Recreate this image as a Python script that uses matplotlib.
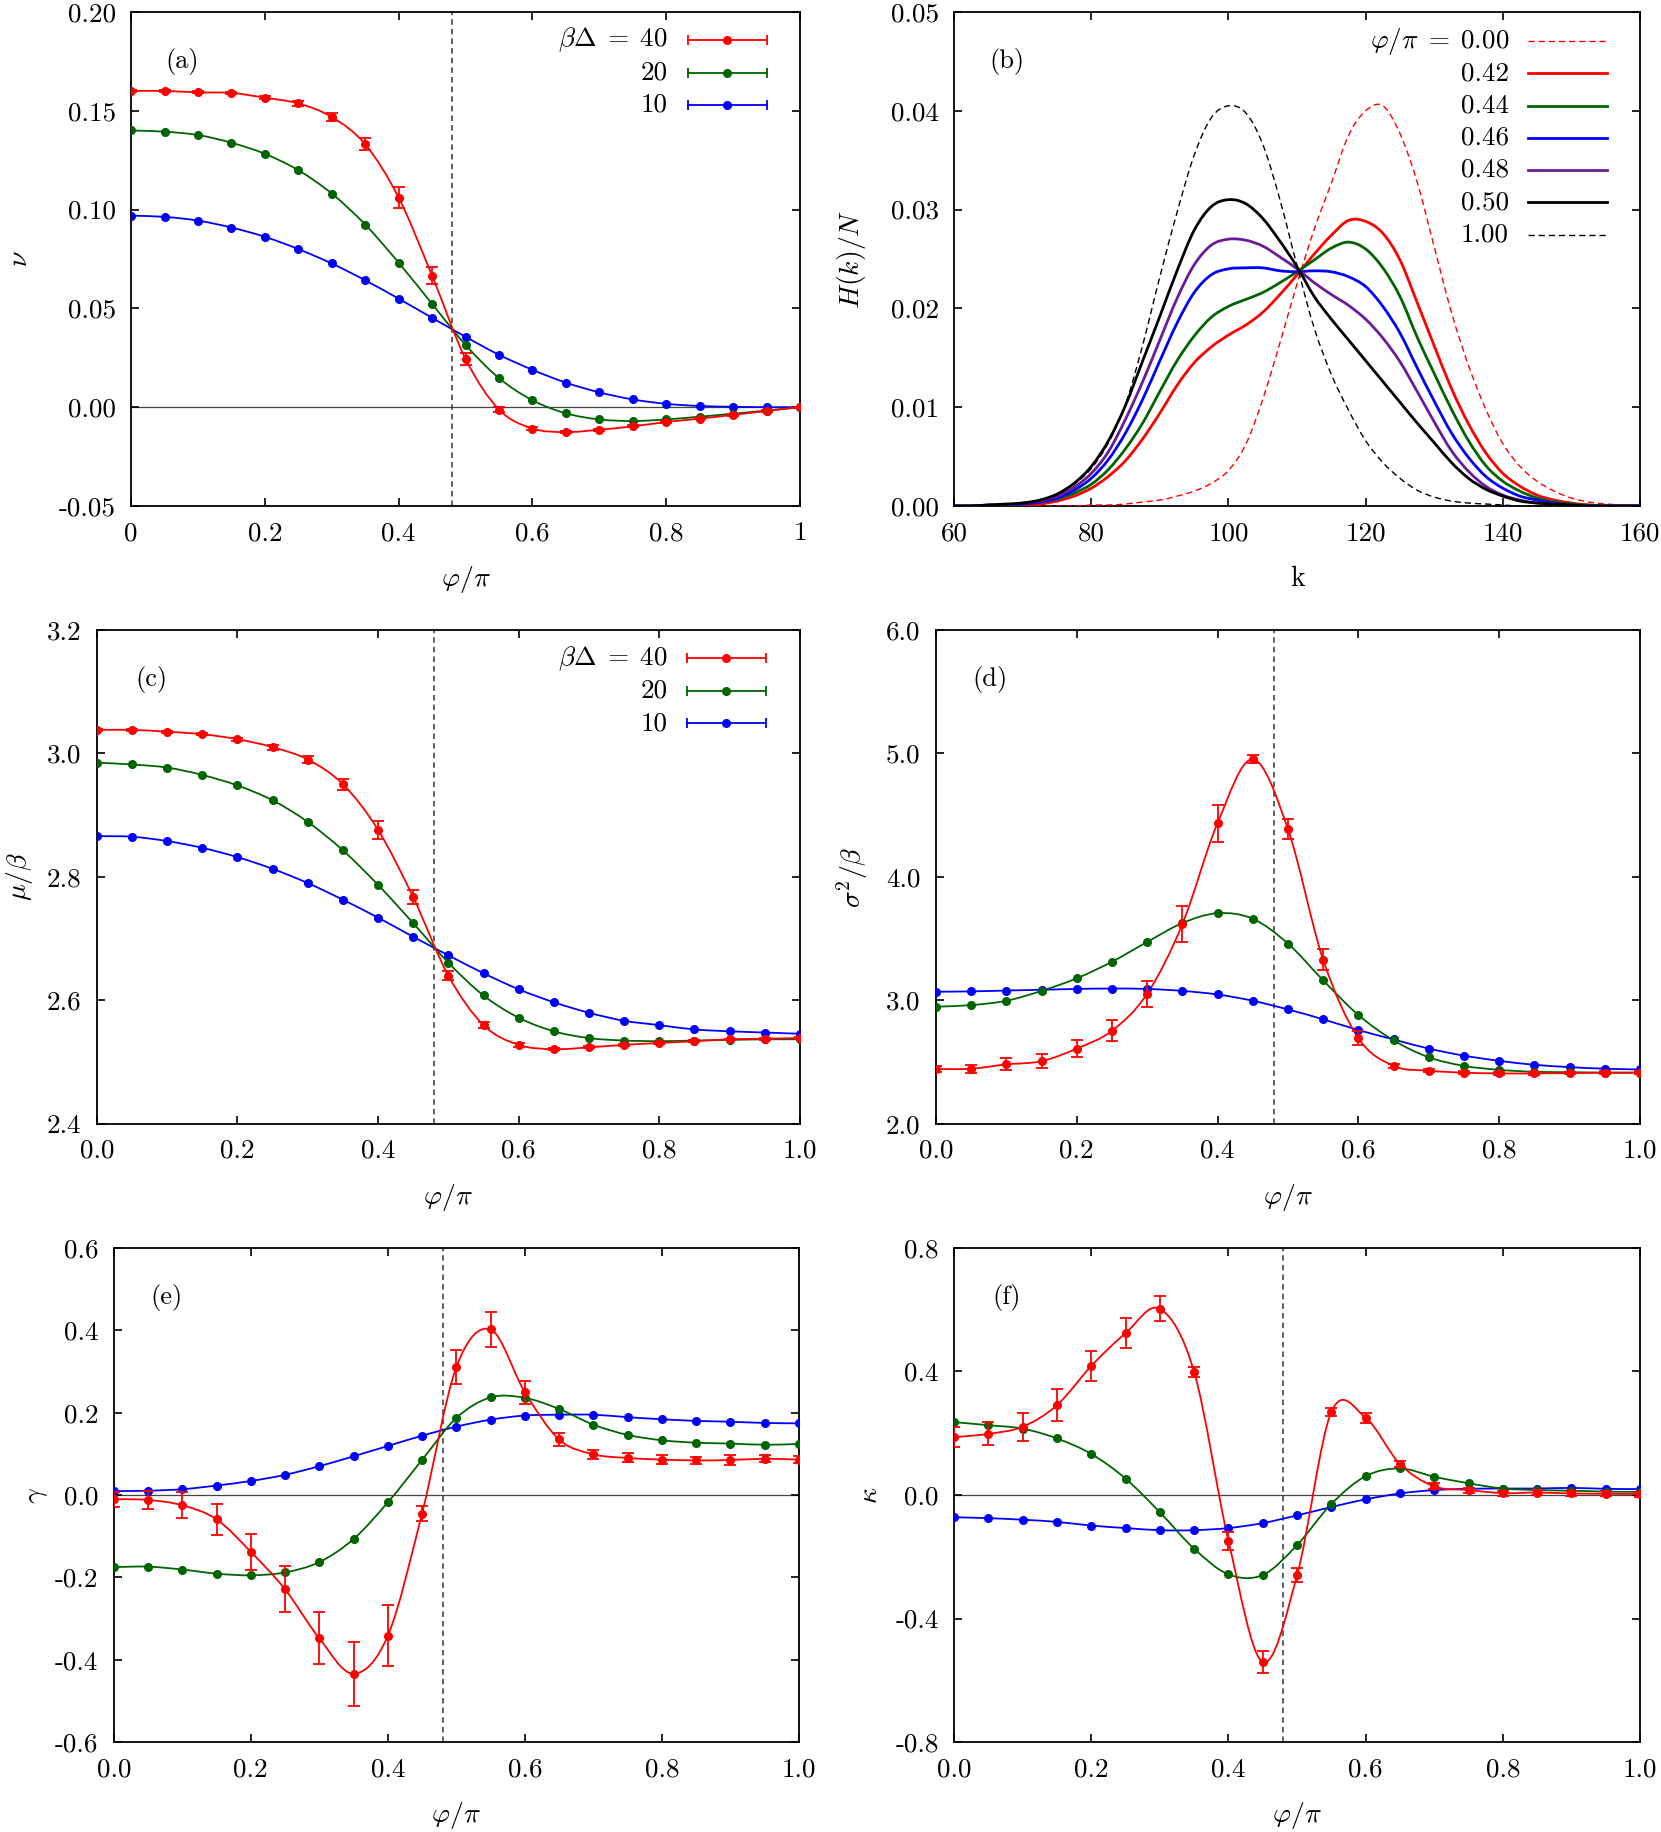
import numpy as np
import matplotlib
matplotlib.use("Agg")
import matplotlib.pyplot as plt
from matplotlib.path import Path
from matplotlib.patches import PathPatch

plt.rcParams['font.family'] = 'cmr10'
plt.rcParams['mathtext.fontset'] = 'cm'
plt.rcParams['axes.unicode_minus'] = False
plt.rcParams['axes.formatter.use_mathtext'] = True
plt.rcParams['font.size'] = 19

RED = '#ff0000'
GREEN = '#006400'
BLUE = '#0000ff'
PURPLE = '#6a1b9a'
BLACK = '#000000'

# phi/pi grid used by panels (a), (c)-(f)
phi = [0.00, 0.05, 0.10, 0.15, 0.20, 0.25, 0.30, 0.35, 0.40, 0.45, 0.50,
       0.55, 0.60, 0.65, 0.70, 0.75, 0.80, 0.85, 0.90, 0.95, 1.00]

# (a) nu
nu40 = [0.1600, 0.1600, 0.1593, 0.1590, 0.1566, 0.1537, 0.1468, 0.1330, 0.1060, 0.0665, 0.0244,
        -0.0012, -0.0108, -0.0126, -0.0114, -0.0097, -0.0075, -0.0058, -0.0039, -0.0019, 0.0]
nu40_err = [0.0005, 0.0005, 0.0005, 0.0005, 0.0008, 0.0012, 0.002, 0.003, 0.0052, 0.0042, 0.003,
            0.0012, 0.0008, 0.0006, 0.0005, 0.0005, 0.0005, 0.0004, 0.0004, 0.0003, 0.0002]
nu20 = [0.1400, 0.1394, 0.1377, 0.1338, 0.1282, 0.1199, 0.1081, 0.0924, 0.0731, 0.0522, 0.0315,
        0.0147, 0.0035, -0.0031, -0.0062, -0.0070, -0.0062, -0.0048, -0.0033, -0.0017, 0.0]
nu10 = [0.0969, 0.0963, 0.0944, 0.0909, 0.0862, 0.0800, 0.0727, 0.0642, 0.0549, 0.0452, 0.0356,
        0.0265, 0.0189, 0.0124, 0.0075, 0.0039, 0.0017, 0.0006, 0.0002, 0.0, 0.0]

# (b) H(k)/N
k = [60, 62.5, 65, 67.5, 70, 72.5, 75, 77.5, 80, 82.5, 85, 87.5, 90, 92.5, 95, 97.5, 100,
     102.5, 105, 107.5, 110, 112.5, 115, 117.5, 120, 122.5, 125, 127.5, 130, 132.5, 135,
     137.5, 140, 142.5, 145, 147.5, 150, 152.5, 155, 157.5, 160]
h000 = [0, 0, 0, 0, 0, 0, 0, 0, 0.0001, 0.0001, 0.0002, 0.0004, 0.0006, 0.0010, 0.0015, 0.0023,
        0.0036, 0.0062, 0.0108, 0.0165, 0.0225, 0.0280, 0.0327, 0.0375, 0.0400, 0.0405, 0.0377,
        0.0328, 0.0262, 0.0196, 0.0142, 0.0098, 0.0063, 0.0040, 0.0025, 0.0015, 0.0008, 0.0004,
        0.0002, 0.0001, 0.0]
h042 = [0, 0, 0, 0, 0.0001, 0.0002, 0.0005, 0.0010, 0.0018, 0.0030, 0.0046, 0.0068, 0.0094,
        0.0122, 0.0145, 0.0161, 0.0173, 0.0183, 0.0196, 0.0214, 0.0234, 0.0255, 0.0274, 0.0289,
        0.0288, 0.0276, 0.0249, 0.0206, 0.0162, 0.0119, 0.0083, 0.0054, 0.0033, 0.0020, 0.0011,
        0.0006, 0.0003, 0.0001, 0, 0, 0]
h044 = [0, 0, 0, 0.0001, 0.0002, 0.0004, 0.0007, 0.0013, 0.0022, 0.0037, 0.0058, 0.0084, 0.0116,
        0.0147, 0.0172, 0.0191, 0.0202, 0.0209, 0.0216, 0.0226, 0.0237, 0.0249, 0.0261, 0.0267,
        0.0260, 0.0241, 0.0212, 0.0171, 0.0134, 0.0098, 0.0066, 0.0041, 0.0025, 0.0015, 0.0008,
        0.0004, 0.0002, 0.0001, 0, 0, 0]
h046 = [0, 0, 0.0001, 0.0001, 0.0002, 0.0004, 0.0008, 0.0016, 0.0028, 0.0047, 0.0074, 0.0108,
        0.0147, 0.0185, 0.0216, 0.0234, 0.0240, 0.0241, 0.0241, 0.0238, 0.0237, 0.0238, 0.0237,
        0.0232, 0.0222, 0.0202, 0.0175, 0.0140, 0.0106, 0.0074, 0.0049, 0.0030, 0.0018, 0.0010,
        0.0006, 0.0003, 0.0001, 0, 0, 0, 0]
h048 = [0, 0, 0.0001, 0.0001, 0.0003, 0.0005, 0.0010, 0.0019, 0.0033, 0.0055, 0.0088, 0.0126,
        0.0168, 0.0210, 0.0244, 0.0264, 0.0270, 0.0269, 0.0263, 0.0252, 0.0240, 0.0226, 0.0214,
        0.0203, 0.0189, 0.0170, 0.0146, 0.0116, 0.0085, 0.0056, 0.0035, 0.0020, 0.0011, 0.0006,
        0.0003, 0.0002, 0.0001, 0, 0, 0, 0]
h050 = [0, 0, 0.0001, 0.0002, 0.0003, 0.0006, 0.0012, 0.0023, 0.0040, 0.0066, 0.0102, 0.0147,
        0.0192, 0.0238, 0.0279, 0.0303, 0.0310, 0.0306, 0.0291, 0.0268, 0.0242, 0.0212, 0.0189,
        0.0168, 0.0147, 0.0126, 0.0105, 0.0084, 0.0064, 0.0044, 0.0028, 0.0017, 0.0010, 0.0005,
        0.0003, 0.0002, 0.0001, 0, 0, 0, 0]
h100 = [0, 0, 0.0001, 0.0001, 0.0003, 0.0006, 0.0012, 0.0022, 0.0038, 0.0064, 0.0103, 0.0163,
        0.0232, 0.0297, 0.0355, 0.0393, 0.0405, 0.0398, 0.0366, 0.0310, 0.0243, 0.0180, 0.0133,
        0.0097, 0.0066, 0.0044, 0.0028, 0.0016, 0.0009, 0.0005, 0.0003, 0.0002, 0.0001, 0, 0,
        0, 0, 0, 0, 0, 0]
b_labels = [r'$\varphi/\pi\;=\;0.00$', '0.42', '0.44', '0.46', '0.48', '0.50', '1.00']

# (c) mu/beta
mu40 = [3.038, 3.038, 3.035, 3.031, 3.023, 3.010, 2.990, 2.950, 2.876, 2.767, 2.640,
        2.560, 2.528, 2.521, 2.524, 2.528, 2.531, 2.534, 2.537, 2.538, 2.539]
mu40_err = [0.0013, 0.0013, 0.0013, 0.002, 0.0026, 0.004, 0.0064, 0.009, 0.014, 0.0115, 0.0077,
            0.005, 0.003, 0.002, 0.0015, 0.0013, 0.0013, 0.0013, 0.0013, 0.0013, 0.0013]
mu20 = [2.985, 2.982, 2.977, 2.965, 2.948, 2.924, 2.889, 2.843, 2.787, 2.725, 2.661,
        2.608, 2.572, 2.550, 2.539, 2.535, 2.534, 2.535, 2.536, 2.537, 2.537]
mu10 = [2.866, 2.865, 2.858, 2.847, 2.832, 2.813, 2.790, 2.763, 2.734, 2.703, 2.673,
        2.644, 2.618, 2.597, 2.580, 2.567, 2.560, 2.553, 2.550, 2.548, 2.546]

# (d) sigma^2/beta
s40 = [2.444, 2.447, 2.482, 2.508, 2.610, 2.754, 3.054, 3.617, 4.435, 4.952, 4.387,
       3.329, 2.696, 2.470, 2.431, 2.415, 2.409, 2.409, 2.412, 2.415, 2.415]
s40_err = [0.026, 0.032, 0.048, 0.058, 0.07, 0.086, 0.105, 0.144, 0.15, 0.032, 0.08,
           0.086, 0.058, 0.019, 0.013, 0.01, 0.01, 0.01, 0.01, 0.01, 0.01]
s20 = [2.949, 2.962, 2.997, 3.077, 3.179, 3.313, 3.473, 3.626, 3.706, 3.661, 3.460,
       3.163, 2.882, 2.677, 2.540, 2.470, 2.438, 2.422, 2.419, 2.415, 2.415]
s10 = [3.070, 3.073, 3.080, 3.086, 3.093, 3.096, 3.093, 3.077, 3.048, 2.997, 2.927,
       2.847, 2.760, 2.684, 2.610, 2.553, 2.511, 2.479, 2.460, 2.447, 2.441]

# (e) gamma
g40 = [-0.010, -0.012, -0.025, -0.059, -0.138, -0.229, -0.348, -0.434, -0.342, -0.045, 0.310,
       0.402, 0.250, 0.135, 0.099, 0.090, 0.086, 0.084, 0.085, 0.088, 0.086]
g40_err = [0.018, 0.021, 0.032, 0.037, 0.044, 0.056, 0.063, 0.078, 0.074, 0.018, 0.041,
           0.042, 0.028, 0.016, 0.011, 0.011, 0.011, 0.009, 0.011, 0.009, 0.008]
g20 = [-0.175, -0.174, -0.181, -0.191, -0.195, -0.188, -0.163, -0.107, -0.018, 0.085, 0.187,
       0.237, 0.236, 0.209, 0.171, 0.146, 0.133, 0.127, 0.125, 0.122, 0.124]
g10 = [0.0095, 0.0104, 0.014, 0.023, 0.034, 0.049, 0.070, 0.094, 0.119, 0.144, 0.166,
       0.183, 0.193, 0.195, 0.195, 0.189, 0.184, 0.180, 0.178, 0.175, 0.174]

# (f) kappa
k40 = [0.187, 0.198, 0.221, 0.291, 0.418, 0.524, 0.603, 0.398, -0.149, -0.541, -0.260,
       0.269, 0.250, 0.100, 0.028, 0.016, 0.006, 0.008, 0.005, 0.004, 0.003]
k40_err = [0.033, 0.037, 0.046, 0.052, 0.049, 0.048, 0.040, 0.015, 0.028, 0.035, 0.023,
           0.013, 0.016, 0.010, 0.010, 0.008, 0.008, 0.008, 0.008, 0.008, 0.008]
k20 = [0.236, 0.226, 0.215, 0.183, 0.133, 0.053, -0.056, -0.174, -0.257, -0.259, -0.162,
       -0.029, 0.061, 0.086, 0.059, 0.038, 0.021, 0.016, 0.014, 0.011, 0.010]
k10 = [-0.072, -0.075, -0.080, -0.087, -0.099, -0.107, -0.114, -0.114, -0.107, -0.091, -0.066,
       -0.039, -0.014, 0.005, 0.016, 0.020, 0.021, 0.021, 0.023, 0.020, 0.019]

beta_labels = [r'$\beta\Delta\;=\;40$', '20', '10']
phi_c = 0.48


def smooth(ax, x, y, **kw):
    # cubic bezier through the points (like gnuplot's smooth lines)
    x = np.asarray(x, float)
    y = np.asarray(y, float)
    m = np.gradient(y, x)
    h = np.diff(x)
    verts = [(x[0], y[0])]
    for i in range(len(x) - 1):
        verts.append((x[i] + h[i] / 3, y[i] + m[i] * h[i] / 3))
        verts.append((x[i + 1] - h[i] / 3, y[i + 1] - m[i + 1] * h[i] / 3))
        verts.append((x[i + 1], y[i + 1]))
    codes = [Path.MOVETO] + [Path.CURVE4] * (len(verts) - 1)
    ax.add_patch(PathPatch(Path(verts, codes), fill=False, **kw))


def series(ax, y, color, err=None):
    smooth(ax, phi, y, edgecolor=color, lw=1.3, zorder=3)
    if err is not None:
        ax.errorbar(phi, y, yerr=err, fmt='o', color=color, ms=5.5, capsize=4,
                    elinewidth=1.3, capthick=1.3, zorder=4)
    else:
        ax.plot(phi, y, 'o', color=color, ms=5.5, zorder=4)


def setup(ax, xlim, xticks, xtl, ylim, yticks, ytl, xlabel, ylabel, ylx, tag):
    ax.set_xlim(xlim)
    ax.set_ylim(ylim)
    ax.set_xticks(xticks)
    ax.set_xticklabels(xtl)
    ax.set_yticks(yticks)
    ax.set_yticklabels(ytl)
    ax.tick_params(direction='in', top=True, right=True, length=6, width=1.2, labelsize=19.5)
    ax.tick_params(axis='x', pad=11)
    ax.tick_params(axis='y', pad=11)
    for s in ax.spines.values():
        s.set_linewidth(1.3)
    ax.set_xlabel(xlabel, fontsize=20)
    ax.set_ylabel(ylabel, fontsize=20)
    ax.xaxis.label.set_va('center')
    ax.yaxis.label.set_va('center')
    ax.xaxis.set_label_coords(0.5, -0.148)
    ax.yaxis.set_label_coords(ylx, 0.5)
    ax.text(0.077, 0.90, tag, transform=ax.transAxes, ha='center', va='center', fontsize=19)


def eb_legend(ax, labels, colors, xt, x0, x1, y0, dy):
    for i, (lab, c) in enumerate(zip(labels, colors)):
        y = y0 - i * dy
        ax.text(xt, y, lab, transform=ax.transAxes, ha='right', va='center', fontsize=19.5)
        ax.plot([x0, x1], [y, y], transform=ax.transAxes, color=c, lw=1.3)
        ax.plot([x0, x1], [y, y], transform=ax.transAxes, ls='none', marker='|',
                ms=7, mew=1.3, color=c)
        ax.plot([(x0 + x1) / 2], [y], transform=ax.transAxes, marker='o', ms=5.5, color=c)


fig = plt.figure(figsize=(16.61, 18.32), dpi=100)
ax_a = fig.add_axes([0.0789, 0.7238, 0.4028, 0.2697])
ax_b = fig.add_axes([0.5744, 0.7238, 0.4130, 0.2697])
ax_c = fig.add_axes([0.0583, 0.3865, 0.4233, 0.2697])
ax_d = fig.add_axes([0.5635, 0.3865, 0.4238, 0.2697])
ax_e = fig.add_axes([0.0685, 0.0491, 0.4124, 0.2697])
ax_f = fig.add_axes([0.5744, 0.0491, 0.4130, 0.2697])

x01 = [0, 0.2, 0.4, 0.6, 0.8, 1.0]
x01_lab = ['0.0', '0.2', '0.4', '0.6', '0.8', '1.0']
dash_v = dict(color='#333333', lw=1.1, ls=(0, (3.6, 2.7)), zorder=1)

# (a)
ax = ax_a
ax.axhline(0, color='#444444', lw=0.9, zorder=1)
ax.axvline(phi_c, **dash_v)
series(ax, nu10, BLUE)
series(ax, nu20, GREEN)
series(ax, nu40, RED, nu40_err)
setup(ax, (0, 1), x01, ['0', '0.2', '0.4', '0.6', '0.8', '1'],
      (-0.05, 0.20), [-0.05, 0, 0.05, 0.10, 0.15, 0.20],
      ['-0.05', '0.00', '0.05', '0.10', '0.15', '0.20'],
      r'$\varphi/\pi$', r'$\nu$', -0.166, '(a)')
eb_legend(ax, beta_labels, [RED, GREEN, BLUE], 0.802, 0.832, 0.950, 0.943, 0.0657)

# (b)
ax = ax_b
b_curves = [h000, h042, h044, h046, h048, h050, h100]
b_colors = [RED, RED, GREEN, BLUE, PURPLE, BLACK, BLACK]
b_dashed = [True, False, False, False, False, False, True]
for i, (h, c, d) in enumerate(zip(b_curves, b_colors, b_dashed)):
    if d:
        kw = dict(edgecolor=c, lw=1.0, ls=(0, (4.5, 2.8)))
    else:
        kw = dict(edgecolor=c, lw=2.0)
    smooth(ax, k, h, zorder=3, **kw)
    y = 0.941 - i * 0.0653
    ax.text(0.809, y, b_labels[i], transform=ax.transAxes, ha='right', va='center', fontsize=19.5)
    ax.plot([0.837, 0.952], [y, y], transform=ax.transAxes, color=c,
            lw=kw['lw'], ls=kw.get('ls', '-'))
setup(ax, (60, 160), [60, 80, 100, 120, 140, 160], ['60', '80', '100', '120', '140', '160'],
      (0, 0.05), [0, 0.01, 0.02, 0.03, 0.04, 0.05],
      ['0.00', '0.01', '0.02', '0.03', '0.04', '0.05'],
      'k', r'$H(k)/N$', -0.149, '(b)')

# (c)
ax = ax_c
ax.axvline(phi_c, **dash_v)
series(ax, mu10, BLUE)
series(ax, mu20, GREEN)
series(ax, mu40, RED, mu40_err)
setup(ax, (0, 1), x01, x01_lab,
      (2.4, 3.2), [2.4, 2.6, 2.8, 3.0, 3.2], ['2.4', '2.6', '2.8', '3.0', '3.2'],
      r'$\varphi/\pi$', r'$\mu/\beta$', -0.11, '(c)')
eb_legend(ax, beta_labels, [RED, GREEN, BLUE], 0.812, 0.839, 0.952, 0.942, 0.0655)

# (d)
ax = ax_d
ax.axvline(phi_c, **dash_v)
series(ax, s10, BLUE)
series(ax, s20, GREEN)
series(ax, s40, RED, s40_err)
setup(ax, (0, 1), x01, x01_lab,
      (2.0, 6.0), [2, 3, 4, 5, 6], ['2.0', '3.0', '4.0', '5.0', '6.0'],
      r'$\varphi/\pi$', r'$\sigma^2/\beta$', -0.119, '(d)')

# (e)
ax = ax_e
ax.axhline(0, color='#444444', lw=0.9, zorder=1)
ax.axvline(phi_c, **dash_v)
series(ax, g10, BLUE)
series(ax, g20, GREEN)
series(ax, g40, RED, g40_err)
setup(ax, (0, 1), x01, x01_lab,
      (-0.6, 0.6), [-0.6, -0.4, -0.2, 0, 0.2, 0.4, 0.6],
      ['-0.6', '-0.4', '-0.2', '0.0', '0.2', '0.4', '0.6'],
      r'$\varphi/\pi$', r'$\gamma$', -0.112, '(e)')

# (f)
ax = ax_f
ax.axhline(0, color='#444444', lw=0.9, zorder=1)
ax.axvline(phi_c, **dash_v)
series(ax, k10, BLUE)
series(ax, k20, GREEN)
series(ax, k40, RED, k40_err)
setup(ax, (0, 1), x01, x01_lab,
      (-0.8, 0.8), [-0.8, -0.4, 0, 0.4, 0.8], ['-0.8', '-0.4', '0.0', '0.4', '0.8'],
      r'$\varphi/\pi$', r'$\kappa$', -0.123, '(f)')

fig.savefig('out.png', dpi=100)
